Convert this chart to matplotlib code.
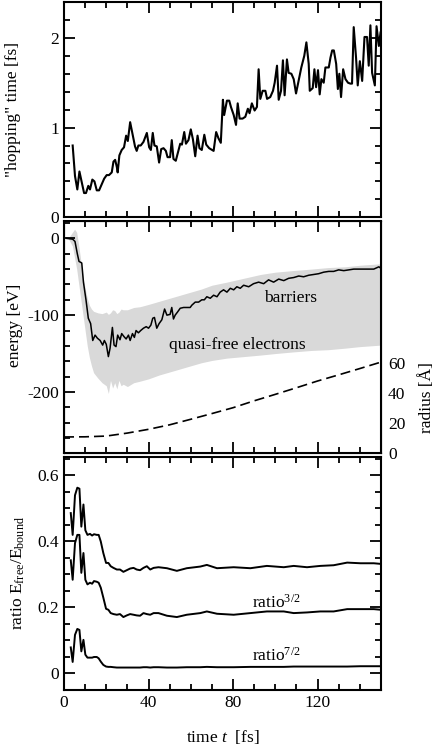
import numpy as np
import matplotlib
matplotlib.use('Agg')
import matplotlib.pyplot as plt
from matplotlib.ticker import MultipleLocator

plt.rcParams['font.family'] = ['Liberation Serif', 'DejaVu Serif']
plt.rcParams['mathtext.fontset'] = 'custom'
plt.rcParams['mathtext.rm'] = 'Liberation Serif'
plt.rcParams['mathtext.it'] = 'Liberation Serif:italic'
plt.rcParams['axes.unicode_minus'] = False
fs = 12.5

# Top panel: hopping time
t_hop = [4.1, 5.2, 6.3, 7.3, 8.4, 9.5, 10.4, 11.5, 12.3, 13.4, 14.4, 15.5, 16.6, 17.9, 19.0,
         20.2, 21.3, 22.6, 23.4, 24.2, 25.0, 25.4, 26.2, 27.3, 28.4, 29.4, 30.2, 31.3, 32.5,
         33.6, 34.4, 35.2, 36.3, 37.6, 39.2, 40.3, 41.1, 42.0, 42.8, 43.9, 45.0, 46.0, 47.1,
         48.2, 49.0, 50.2, 51.0, 51.8, 52.9, 53.9, 55.0, 55.8, 56.9, 57.7, 58.9, 60.0, 61.0,
         62.1, 63.2, 64.1, 65.2, 66.4, 67.3, 68.7, 70.8, 72.0, 73.1, 74.2, 75.2, 75.8, 77.1,
         78.2, 79.0, 80.3, 81.4, 82.2, 83.1, 84.5, 85.8, 87.0, 87.8, 88.9, 90.2, 91.3, 92.1,
         92.9, 94.0, 95.3, 96.1, 97.6, 98.9, 99.7, 100.8, 101.6, 102.7, 103.6, 104.4, 105.5,
         106.3, 107.6, 108.7, 109.8, 111.1, 112.3, 113.7, 114.7, 115.8, 116.3, 117.7, 118.5,
         119.3, 120.2, 121.0, 121.8, 122.9, 123.7, 125.3, 126.1, 126.9, 127.7, 128.8, 129.6,
         130.3, 131.1, 132.1, 133.2, 134.4, 135.5, 136.3, 137.1, 138.2, 139.0, 140.0, 141.1,
         142.2, 143.4, 144.2, 145.0, 145.8, 147.1, 147.9, 149.0, 149.8]
hop = [0.80, 0.46, 0.31, 0.51, 0.39, 0.27, 0.27, 0.35, 0.31, 0.42, 0.40, 0.30, 0.30, 0.37, 0.43,
       0.47, 0.47, 0.50, 0.62, 0.64, 0.56, 0.50, 0.69, 0.75, 0.78, 0.91, 0.85, 1.06, 0.92,
       0.79, 0.74, 0.80, 0.80, 0.84, 0.94, 0.78, 0.75, 0.94, 0.80, 0.79, 0.61, 0.76, 0.77,
       0.74, 0.67, 0.67, 0.86, 0.65, 0.63, 0.72, 0.82, 0.81, 0.95, 0.82, 0.86, 0.98, 0.87,
       0.68, 0.91, 0.77, 0.75, 0.92, 0.81, 0.77, 0.74, 0.95, 0.88, 0.83, 1.31, 1.14, 1.30,
       1.30, 1.23, 1.14, 1.03, 1.27, 1.10, 1.10, 1.12, 1.21, 1.16, 1.27, 1.19, 1.23, 1.65,
       1.32, 1.41, 1.41, 1.32, 1.34, 1.41, 1.50, 1.69, 1.31, 1.41, 1.75, 1.36, 1.76,
       1.61, 1.60, 1.54, 1.38, 1.53, 1.67, 1.80, 1.95, 1.71, 1.41, 1.44, 1.65,
       1.45, 1.64, 1.37, 1.54, 1.50, 1.67, 1.67, 1.78, 1.86, 1.86, 1.71, 1.43,
       1.60, 1.34, 1.65, 1.54, 1.50, 1.49, 1.49, 2.12, 1.78, 1.47, 1.74, 1.52,
       2.01, 2.01, 1.69, 2.14, 1.61, 1.47, 2.13, 1.91, 2.06]

# Middle panel: barrier energy (black line)
t_bar = [1.3, 4.1, 5.2, 6.3, 7.1, 8.4, 9.2, 10.4, 11.5, 12.6, 13.6, 14.7, 15.8, 17.1, 18.3,
         19.1, 20.0, 21.0, 21.8, 22.9, 23.7, 24.6, 25.4, 26.5, 27.3, 28.4, 29.4, 30.5, 31.3,
         32.4, 33.3, 34.1, 35.2, 36.3, 37.6, 38.9, 40.0, 41.1, 42.0, 42.8, 43.9, 45.0, 46.3,
         47.6, 48.7, 50.2, 51.0, 51.8, 52.6, 53.7, 55.0, 56.6, 58.1, 59.7, 60.5, 62.1, 63.7,
         65.2, 66.4, 67.6, 69.2, 70.8, 72.4, 73.9, 75.5, 77.1, 78.7, 80.3, 81.8, 83.4, 85.0,
         87.4, 89.7, 92.1, 94.5, 96.8, 99.2, 101.6, 104.0, 106.3, 108.7, 111.1, 113.4, 115.8,
         118.2, 120.5, 122.9, 125.3, 127.6, 130.0, 132.4, 134.8, 137.1, 139.5, 141.9, 144.2,
         146.6, 149.0, 150.0]
E_bar = [0, -1, -4, -20, -30, -32, -57, -80, -104, -111, -133, -126, -130, -133, -139,
         -133, -138, -154, -143, -116, -139, -141, -126, -132, -124, -128, -131, -126, -133,
         -124, -129, -120, -123, -120, -117, -115, -117, -113, -104, -103, -117, -111, -106,
         -92, -100, -99, -90, -105, -100, -96, -91, -90, -90, -90, -87, -83, -83,
         -80, -80, -76, -78, -74, -76, -70, -67, -70, -65, -67, -63, -65, -61,
         -63, -59, -57, -59, -54, -57, -53, -55, -52, -51, -49, -50, -48,
         -47, -46, -44, -43, -43, -41, -42, -41, -40, -40, -40, -40,
         -40, -37, -39]

# quasi-free electron band (grey)
t_band = [2, 4, 5, 6, 7, 8, 9, 10, 11, 12, 13, 14, 16, 18, 20, 21, 22, 23, 24, 25, 26, 27, 28,
          30, 33, 36, 40, 45, 50, 55, 60, 65, 70, 77, 85, 93, 100, 108, 117, 125, 133, 140, 150]
band_hi = [0, 8, 12, 8, -10, -30, -50, -65, -78, -87, -92, -95, -97, -98, -96, -99, -97, -93,
           -94, -98, -96, -92, -93, -93, -90, -89, -86, -82, -78, -74, -70, -66, -61, -57,
           -52, -47, -44, -42, -40, -38, -37, -35, -33]
band_lo = [0, -10, -25, -40, -60, -80, -100, -120, -140, -155, -166, -175, -182, -188, -192,
           -202, -185, -195, -188, -196, -185, -192, -190, -193, -188, -186, -183, -178, -174,
           -170, -166, -162, -159, -156, -154, -152, -150, -148, -146, -145, -143, -141, -139]

# cluster radius (dashed, right axis)
t_rad = [0, 10, 20, 30, 40, 50, 60, 70, 80, 90, 100, 110, 120, 130, 140, 150]
radius = [10.9, 11.0, 11.5, 13.5, 16.0, 19.0, 22.7, 26.5, 30.4, 35.0, 39.3, 43.7, 48.2, 52.3,
          56.5, 60.8]

# Bottom panel: energy ratios
t_rat = [3.2, 4.1, 5.2, 6.3, 7.3, 8.2, 9.2, 10.1, 11.1, 12.3, 13.3, 14.2, 15.5, 16.4, 17.4,
         18.6, 19.9, 21.0, 22.1, 23.4, 25.0, 26.5, 28.1, 29.7, 31.3, 32.9, 34.4, 36.0, 37.6,
         39.2, 40.8, 42.4, 44.7, 48.7, 53.4, 58.1, 64.5, 67.6, 72.4, 80.3, 88.2, 96.0, 104.0,
         108.7, 115.0, 121.3, 127.6, 134.0, 140.3, 146.6, 150.0]
ratio = [0.486, 0.42, 0.54, 0.563, 0.56, 0.445, 0.512, 0.434, 0.42, 0.423, 0.418, 0.422, 0.42,
         0.42, 0.40, 0.365, 0.335, 0.335, 0.325, 0.32, 0.315, 0.315, 0.308, 0.313, 0.318,
         0.32, 0.315, 0.313, 0.32, 0.325, 0.315, 0.32, 0.322, 0.319, 0.311, 0.319, 0.324,
         0.329, 0.319, 0.322, 0.319, 0.326, 0.322, 0.326, 0.322, 0.326, 0.328, 0.336, 0.334,
         0.334, 0.332]
ratio32 = [0.343, 0.284, 0.395, 0.42, 0.42, 0.305, 0.365, 0.284, 0.27, 0.275, 0.272, 0.28,
           0.278, 0.275, 0.26, 0.23, 0.196, 0.193, 0.183, 0.18, 0.178, 0.18, 0.171, 0.176,
           0.18, 0.178, 0.176, 0.175, 0.183, 0.18, 0.178, 0.183, 0.183, 0.175, 0.171, 0.178,
           0.183, 0.188, 0.181, 0.178, 0.183, 0.188, 0.188, 0.183, 0.185, 0.188, 0.188, 0.195,
           0.195, 0.195, 0.193]
ratio72 = [0.079, 0.035, 0.117, 0.135, 0.132, 0.067, 0.102, 0.057, 0.048, 0.048, 0.048, 0.05,
           0.05, 0.046, 0.036, 0.026, 0.021, 0.02, 0.02, 0.019, 0.018, 0.018, 0.018, 0.018,
           0.018, 0.018, 0.018, 0.018, 0.019, 0.019, 0.018, 0.019, 0.019, 0.018, 0.018, 0.019,
           0.019, 0.02, 0.019, 0.019, 0.02, 0.02, 0.02, 0.021, 0.021, 0.021, 0.021, 0.021,
           0.022, 0.022, 0.022]

fig = plt.figure(figsize=(4.36, 7.44), dpi=100)
ax1 = fig.add_axes([0.1468, 0.708, 0.727, 0.2893])
ax2 = fig.add_axes([0.1468, 0.3907, 0.727, 0.3126])
ax3 = fig.add_axes([0.1468, 0.0726, 0.727, 0.3136])

for ax in (ax1, ax2, ax3):
    ax.set_xlim(0, 150)
    ax.xaxis.set_major_locator(MultipleLocator(40))
    ax.xaxis.set_minor_locator(MultipleLocator(10))
    ax.tick_params(which='both', direction='in', top=True, right=True, width=1.3)
    ax.tick_params(which='major', length=8, labelsize=fs)
    ax.tick_params(which='minor', length=4.5)
    for s in ax.spines.values():
        s.set_linewidth(1.5)

ax1.plot(t_hop, hop, color='k', lw=1.5)
ax1.set_ylim(0, 2.4)
ax1.yaxis.set_major_locator(MultipleLocator(1))
ax1.yaxis.set_minor_locator(MultipleLocator(0.2))
ax1.set_ylabel('"hopping" time [fs]', fontsize=fs, va='center')
ax1.yaxis.set_label_coords(-0.16, 0.5)
ax1.tick_params(labelbottom=False)

ax2.fill_between(t_band, band_lo, band_hi, color='#d9d9d9', lw=0)
ax2.plot(t_bar, E_bar, color='k', lw=1.1)
ax2.set_ylim(-280, 23)
ax2.yaxis.set_major_locator(MultipleLocator(100))
ax2.yaxis.set_minor_locator(MultipleLocator(20))
ax2.set_ylabel('energy [eV]', fontsize=fs, va='center')
ax2.yaxis.set_label_coords(-0.155, 0.55)
ax2.tick_params(labelbottom=False)
ax2.text(107, -78, 'barriers', ha='center', va='center', fontsize=fs)
ax2.text(82, -139, 'quasi-free electrons', ha='center', va='center', fontsize=fs)

ax2r = ax2.twinx()
ax2r.plot(t_rad, radius, color='k', lw=1.2, dashes=(6, 3))
ax2r.set_ylim(0, 155)
ax2r.set_yticks([0, 20, 40, 60])
ax2r.tick_params(axis='y', length=0, labelsize=fs, pad=5)
ax2r.set_ylabel('radius [Å]', fontsize=fs, rotation=90, va='center', ha='center')
ax2r.yaxis.set_label_coords(1.145, 0.24)
ax2r.set_xlim(0, 150)

ax3.plot(t_rat, ratio, color='k', lw=1.4)
ax3.plot(t_rat, ratio32, color='k', lw=1.4)
ax3.plot(t_rat, ratio72, color='k', lw=1.4)
ax3.set_ylim(-0.05, 0.657)
ax3.yaxis.set_minor_locator(MultipleLocator(0.05))
ax3.set_yticks([0, 0.2, 0.4, 0.6])
ax3.set_yticklabels(['0', '0.2', '0.4', '0.6'])
ax3.set_ylabel(r'ratio E$_{\rm free}$/E$_{\rm bound}$', fontsize=fs, va='center')
ax3.yaxis.set_label_coords(-0.145, 0.5)
ax3.set_xticks([0, 40, 80, 120])
ax3.set_xlabel(r'time $t$  [fs]', fontsize=fs, labelpad=12)
ax3.text(89, 0.198, r'ratio$^{3/2}$', fontsize=fs, va='baseline')
ax3.text(89, 0.038, r'ratio$^{7/2}$', fontsize=fs, va='baseline')

fig.savefig('out.png', dpi=100)
